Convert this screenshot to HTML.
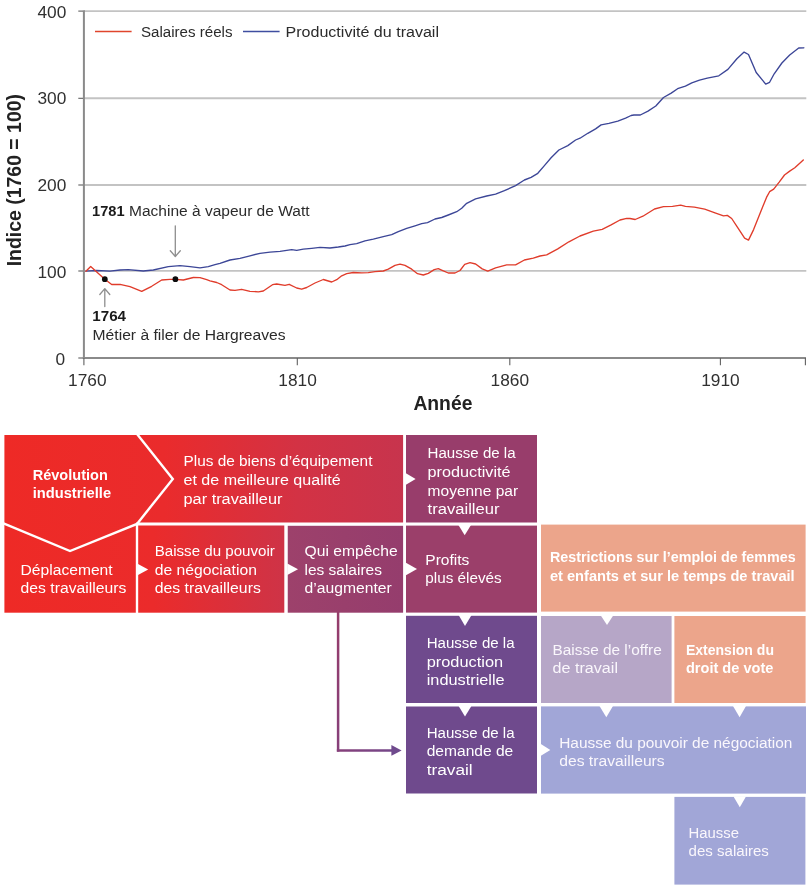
<!DOCTYPE html>
<html lang="fr">
<head>
<meta charset="utf-8">
<title>Révolution industrielle : salaires réels et productivité du travail</title>
<style>
html,body{margin:0;padding:0;background:#fff;}
body{width:810px;height:893px;overflow:hidden;font-family:"Liberation Sans",sans-serif;}
svg{display:block;}
text{font-family:"Liberation Sans",sans-serif;}
.tick{font-size:17.3px;fill:#303030;}
.ann{font-size:15.5px;fill:#2b2b2b;}
.ann.b{font-size:15px;fill:#1a1a1a;}
.b{font-weight:bold;}
.bx.b{font-size:14.8px;}
.bx{font-size:15.5px;fill:#fff;}
.bxl{font-size:15.5px;fill:#faf7fc;}
.axis{font-size:19px;font-weight:bold;fill:#222;}
</style>
</head>
<body>
<svg width="810" height="893" viewBox="0 0 810 893">
<defs>
<linearGradient id="g1" gradientUnits="userSpaceOnUse" x1="4" y1="0" x2="537" y2="0">
<stop offset="0" stop-color="#ee2a26"/>
<stop offset="0.30" stop-color="#ea2b2c"/>
<stop offset="0.55" stop-color="#d33244"/>
<stop offset="0.75" stop-color="#c7344d"/>
</linearGradient>
<linearGradient id="g2" gradientUnits="userSpaceOnUse" x1="4" y1="0" x2="537" y2="0">
<stop offset="0" stop-color="#ee2a26"/>
<stop offset="0.28" stop-color="#eb2b2b"/>
<stop offset="0.52" stop-color="#cf3346"/>
</linearGradient>
<linearGradient id="g3" gradientUnits="userSpaceOnUse" x1="287" y1="0" x2="403" y2="0">
<stop offset="0" stop-color="#9d416b"/>
<stop offset="1" stop-color="#953d6d"/>
</linearGradient>
<linearGradient id="g4" gradientUnits="userSpaceOnUse" x1="0" y1="612" x2="0" y2="750">
<stop offset="0" stop-color="#963d6b"/>
<stop offset="1" stop-color="#86407a"/>
</linearGradient>
<linearGradient id="g5" gradientUnits="userSpaceOnUse" x1="337" y1="0" x2="394" y2="0">
<stop offset="0" stop-color="#86407a"/>
<stop offset="1" stop-color="#74478a"/>
</linearGradient>
</defs>
<rect width="810" height="893" fill="#fff"/>

<!-- chart -->
<g id="chart">
<g stroke="#c3c3c3" stroke-width="1.9" fill="none">
<line x1="84" y1="11.1" x2="806.3" y2="11.1"/>
<line x1="84" y1="98.3" x2="806.3" y2="98.3"/>
<line x1="84" y1="185" x2="806.3" y2="185"/>
<line x1="84" y1="270.9" x2="806.3" y2="270.9"/>
</g>
<g stroke="#8a8a8a" stroke-width="2" fill="none">
<line x1="83.9" y1="10.2" x2="83.9" y2="359"/>
<line x1="82.9" y1="358" x2="806" y2="358"/>
</g>
<g stroke="#606060" stroke-width="1.1" fill="none">
<line x1="78.3" y1="11.1" x2="83" y2="11.1"/>
<line x1="78.3" y1="98.3" x2="83" y2="98.3"/>
<line x1="78.3" y1="185" x2="83" y2="185"/>
<line x1="78.3" y1="271" x2="83" y2="271"/>
<line x1="78.3" y1="358" x2="83" y2="358"/>
<line x1="83.9" y1="358" x2="83.9" y2="365.2"/>
<line x1="297.3" y1="358" x2="297.3" y2="365.2"/>
<line x1="509.8" y1="358" x2="509.8" y2="365.2"/>
<line x1="720.4" y1="358" x2="720.4" y2="365.2"/>
<line x1="805.4" y1="358" x2="805.4" y2="365.2"/>
</g>
<g class="tick" text-anchor="end">
<text x="66.3" y="17.8">400</text>
<text x="66.3" y="103.7">300</text>
<text x="66.3" y="191">200</text>
<text x="66.3" y="277.6">100</text>
<text x="65" y="364.7">0</text>
</g>
<g class="tick" text-anchor="middle">
<text x="87.3" y="385.5">1760</text>
<text x="297.6" y="385.5">1810</text>
<text x="509.8" y="385.5">1860</text>
<text x="720.4" y="385.5">1910</text>
</g>
<text class="axis" style="font-size:19.8px" transform="translate(20.6,266.3) rotate(-90)" textLength="172.3" lengthAdjust="spacingAndGlyphs">Indice (1760 = 100)</text>
<text class="axis" style="font-size:20px" x="413.4" y="409.7" textLength="59" lengthAdjust="spacingAndGlyphs">Année</text>

<!-- legend -->
<line x1="95" y1="31.5" x2="131.6" y2="31.5" stroke="#e0452c" stroke-width="1.4"/>
<text class="ann" x="141" y="36.8" textLength="91.5" lengthAdjust="spacingAndGlyphs">Salaires réels</text>
<line x1="243" y1="31.5" x2="279.6" y2="31.5" stroke="#3f4ea0" stroke-width="1.4"/>
<text class="ann" x="285.5" y="36.8" textLength="153.5" lengthAdjust="spacingAndGlyphs">Productivité du travail</text>

<!-- curves -->
<polyline fill="none" stroke="#3c4697" stroke-width="1.35" stroke-linejoin="round" stroke-linecap="round" points="85.9,271.1 96.7,270.5 110,271.2 120,270 128.3,269.7 143.3,271 153.3,270 168.3,266.7 180,265.7 190,266.7 200,267.8 208.3,266.7 215,264.7 220,263.3 230,260 240,258.3 250,255.8 260,253.3 270,252.2 280,251.3 291.7,249.7 296.7,250.3 303.3,249.2 311.7,248.3 320,247.3 330,248 338.3,247 345,246 350,244.7 356.7,243.7 365,240.8 373.3,239.2 383.3,236.7 391.7,234.7 398.3,231.7 406.7,228.3 415,225.8 421.7,223.7 427.5,222.7 435,219 441.7,217.5 448.3,215 456.7,211.7 461.7,208.3 466.7,203.3 475.6,198.9 486.7,196 495.6,194.2 504.4,190.7 515.6,185.6 524.4,180 531.1,177.3 537.8,173.3 544.4,165.6 551.1,157.8 558.9,150 567.8,145.6 575.6,140 580,138.2 587.8,133.3 595.6,128.9 601.1,124.9 608.9,123.3 617.8,121.1 625.6,118.2 631.1,115.5 633.9,115 640.3,115 648,111.1 655.8,106 663.5,97.5 671.2,93.1 677.6,88.7 685.4,86.1 691.8,82.8 699.5,80.2 707.3,78.2 718.8,75.8 727.9,69.4 736.9,58.8 744.1,52.1 748.5,54.5 756.2,72.5 765.7,84.1 769.6,82.3 774.2,73.8 781.9,63 789.7,55 798.7,48 803.8,47.8"/>
<polyline fill="none" stroke="#e03c2b" stroke-width="1.35" stroke-linejoin="round" stroke-linecap="round" points="85.9,271.2 90.7,266.5 104.8,279.2 111.7,284.5 120,284.3 130,286.7 141.7,291.3 151.7,286.3 161.7,280 170,279.3 175.3,279.3 183.3,280 193.3,277.5 200,277.7 206.7,279.7 210,280.8 216.7,282.5 221.7,284.7 230,290 235,290.3 241.7,289.3 250,291.3 258.3,291.8 263.3,291 272.5,284.7 276.7,284 285,285.3 289.2,284.3 296.7,288 301.7,289.2 306.7,287.5 315,283 323.3,279.5 331.7,282 336.7,279.7 341.7,275.8 346.7,273.7 353.3,272.5 361.7,272.8 368.3,272.7 375,271.7 383.3,271 388.3,269.2 395,265.3 400,264.2 405,265.3 411.7,269.2 417.5,273.7 423.3,275 428.3,273.3 434.2,269.7 438.3,268.7 443.3,270.8 448.3,273 455,273 460,270.5 464.7,264.3 470,262.7 475.6,264 482.2,268.9 487.8,271.1 495.6,267.8 506.7,264.9 515.6,264.9 524.4,260 533.3,258.2 540,256 546.7,254.9 557.8,248.9 568.9,241.8 580,236 593.3,231.1 602.2,229.3 611.1,224.9 620,220 626.7,218.4 630,218.5 635.2,219.5 642.9,216.2 654.5,209 663.5,206.7 672.5,206.4 680.7,205.1 685.4,206.4 694.4,207.2 704.7,209.2 715,212.8 723.5,215.9 727.3,215.4 731.7,218.5 738.2,228.3 744.6,238.1 748.5,240.1 753.6,229.6 761.3,210.3 766.5,197.4 769.6,191.7 773.7,189.2 779.4,181.9 784.5,175 789.7,171.1 794.8,167.8 803.3,160"/>
<circle cx="104.8" cy="279.2" r="2.85" fill="#0c0c0c"/>
<circle cx="175.4" cy="279.2" r="2.85" fill="#0c0c0c"/>

<!-- annotations -->
<g stroke="#8e8e8e" stroke-width="1.3" fill="none" stroke-linecap="round" stroke-linejoin="round">
<path d="M175.3 225.8 V256 M170.3 250.8 L175.3 256.5 L180.3 250.8"/>
<path d="M104.8 306.5 V288.8 M99.8 294.5 L104.8 288.6 L109.8 294.5"/>
</g>
<text class="ann b" x="92" y="216" textLength="32.6" lengthAdjust="spacingAndGlyphs">1781</text>
<text class="ann" x="129" y="216" textLength="180.5" lengthAdjust="spacingAndGlyphs">Machine à vapeur de Watt</text>
<text class="ann b" x="92.3" y="320.9" textLength="33.7" lengthAdjust="spacingAndGlyphs">1764</text>
<text class="ann" x="92.6" y="340" textLength="193" lengthAdjust="spacingAndGlyphs">Métier à filer de Hargreaves</text>
</g>

<!-- flow diagram -->
<g id="flow">
<!-- row 1 -->
<rect x="4.4" y="435" width="398.7" height="89.5" fill="url(#g1)"/>
<rect x="406" y="435" width="131" height="87.5" fill="#983d6b"/>
<!-- row 2 -->
<rect x="4.4" y="524" width="281.5" height="88.7" fill="url(#g2)"/>
<rect x="287.5" y="525.6" width="115.6" height="87.1" fill="url(#g3)"/>
<rect x="406" y="525.6" width="131" height="87" fill="#9b3f6a"/>
<rect x="541" y="524.6" width="264.6" height="87" fill="#eca58b"/>
<!-- row 3 -->
<rect x="406" y="615.8" width="131" height="87.2" fill="#6f4a8d"/>
<rect x="541" y="616" width="130.6" height="87" fill="#b6a6c7"/>
<rect x="674.4" y="616" width="131.2" height="87" fill="#eca58b"/>
<!-- row 4 -->
<rect x="406" y="706.5" width="131" height="87" fill="#6f4a8d"/>
<rect x="541" y="706.4" width="265" height="87.2" fill="#a1a6d7"/>
<!-- row 5 -->
<rect x="674.4" y="796.9" width="131" height="87.7" fill="#a1a6d7"/>

<!-- white separators in red block -->
<g stroke="#fff" fill="none" stroke-linejoin="miter">
<path d="M137 434 L172.8 478.9 L137 523.9 L70 551 L3.5 523.4" stroke-width="2.4"/>
<path d="M137 524 V613.5" stroke-width="2.4"/>
<path d="M136 524 H405" stroke-width="3.2"/>
<path d="M285.9 523 V613.5" stroke-width="3.2"/>
</g>

<!-- white small triangles -->
<g fill="#fff">
<path d="M138 564 L148.2 569.5 L138 575 Z"/>
<path d="M287.3 563.5 L298 569.3 L287.3 575 Z"/>
<path d="M405.5 562.6 L417 569 L405.5 575.4 Z"/>
<path d="M405.5 473 L415.6 479 L405.5 485 Z"/>
<path d="M458.4 525 H471 L464.7 535.2 Z"/>
<path d="M458.6 615 H471.6 L465 626 Z"/>
<path d="M458.6 706 H471.4 L465 716.5 Z"/>
<path d="M600.8 615.5 H613.2 L607 625 Z"/>
<path d="M599.5 706 H613 L606.3 717.2 Z"/>
<path d="M733 706 H746 L739.6 717.2 Z"/>
<path d="M733.5 796.5 H746 L739.8 807.3 Z"/>
<path d="M540.5 743.8 L550.3 749.9 L540.5 756 Z"/>
</g>

<!-- purple connector arrow -->
<path d="M338.1 612 V751.6" fill="none" stroke="url(#g4)" stroke-width="2.5"/>
<path d="M336.85 750.4 H394" fill="none" stroke="url(#g5)" stroke-width="2.5"/>
<path d="M391.4 745 L401.6 750.4 L391.4 755.8 Z" fill="#6f4a8d"/>

<!-- texts -->
<g class="bx b">
<text x="32.7" y="479.8" textLength="75.1" lengthAdjust="spacingAndGlyphs">Révolution</text>
<text x="32.7" y="498.3" textLength="78.4" lengthAdjust="spacingAndGlyphs">industrielle</text>
<text x="549.9" y="562.3" textLength="245.8" lengthAdjust="spacingAndGlyphs">Restrictions sur l’emploi de femmes</text>
<text x="549.9" y="580.7" textLength="244.8" lengthAdjust="spacingAndGlyphs">et enfants et sur le temps de travail</text>
<text x="685.9" y="655" textLength="88.1" lengthAdjust="spacingAndGlyphs">Extension du</text>
<text x="685.9" y="673.4" textLength="87.5" lengthAdjust="spacingAndGlyphs">droit de vote</text>
</g>
<g class="bx">
<text x="183.5" y="466.3" textLength="188.9" lengthAdjust="spacingAndGlyphs">Plus de biens d’équipement</text>
<text x="183.5" y="485.1" textLength="157.2" lengthAdjust="spacingAndGlyphs">et de meilleure qualité</text>
<text x="183.5" y="503.8" textLength="98.9" lengthAdjust="spacingAndGlyphs">par travailleur</text>
<text x="20.6" y="574.6" textLength="92.0" lengthAdjust="spacingAndGlyphs">Déplacement</text>
<text x="20.6" y="593.1" textLength="105.7" lengthAdjust="spacingAndGlyphs">des travailleurs</text>
<text x="154.7" y="555.8" textLength="120.2" lengthAdjust="spacingAndGlyphs">Baisse du pouvoir</text>
<text x="154.7" y="574.6" textLength="102.2" lengthAdjust="spacingAndGlyphs">de négociation</text>
<text x="154.7" y="593.3" textLength="106.1" lengthAdjust="spacingAndGlyphs">des travailleurs</text>
<text x="304.5" y="555.8" textLength="93.1" lengthAdjust="spacingAndGlyphs">Qui empêche</text>
<text x="304.5" y="574.6" textLength="77.4" lengthAdjust="spacingAndGlyphs">les salaires</text>
<text x="304.5" y="593.3" textLength="87.2" lengthAdjust="spacingAndGlyphs">d’augmenter</text>
<text x="427.6" y="458.3" textLength="88.0" lengthAdjust="spacingAndGlyphs">Hausse de la</text>
<text x="427.6" y="477" textLength="83.0" lengthAdjust="spacingAndGlyphs">productivité</text>
<text x="427.6" y="495.6" textLength="90.5" lengthAdjust="spacingAndGlyphs">moyenne par</text>
<text x="427.6" y="514.3" textLength="71.9" lengthAdjust="spacingAndGlyphs">travailleur</text>
<text x="425.3" y="564.5" textLength="44.1" lengthAdjust="spacingAndGlyphs">Profits</text>
<text x="425.3" y="583.3" textLength="76.4" lengthAdjust="spacingAndGlyphs">plus élevés</text>
<text x="426.7" y="647.7" textLength="87.9" lengthAdjust="spacingAndGlyphs">Hausse de la</text>
<text x="426.7" y="666.5" textLength="76.4" lengthAdjust="spacingAndGlyphs">production</text>
<text x="426.7" y="685.1" textLength="78.0" lengthAdjust="spacingAndGlyphs">industrielle</text>
<text x="426.7" y="737.5" textLength="87.9" lengthAdjust="spacingAndGlyphs">Hausse de la</text>
<text x="426.7" y="756.2" textLength="86.6" lengthAdjust="spacingAndGlyphs">demande de</text>
<text x="426.7" y="774.7" textLength="46.0" lengthAdjust="spacingAndGlyphs">travail</text>
</g>
<g class="bxl">
<text x="552.5" y="655" textLength="109.2" lengthAdjust="spacingAndGlyphs">Baisse de l’offre</text>
<text x="552.5" y="673.4" textLength="65.5" lengthAdjust="spacingAndGlyphs">de travail</text>
<text x="559.2" y="747.7" textLength="233.2" lengthAdjust="spacingAndGlyphs">Hausse du pouvoir de négociation</text>
<text x="559.2" y="766.1" textLength="105.5" lengthAdjust="spacingAndGlyphs">des travailleurs</text>
<text x="688.6" y="837.5" textLength="50.4" lengthAdjust="spacingAndGlyphs">Hausse</text>
<text x="688.6" y="855.7" textLength="80.3" lengthAdjust="spacingAndGlyphs">des salaires</text>
</g>
</g>
</svg>
</body>
</html>
